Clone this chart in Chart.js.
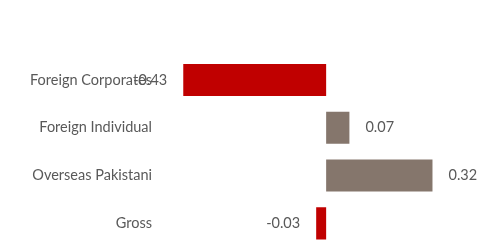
<!DOCTYPE html>
<html>
<head>
<meta charset="utf-8">
<script src="https://cdn.jsdelivr.net/npm/chart.js@4"></script>
<style>
    html, body { margin: 0; padding: 0; background: #ffffff; overflow: hidden; }
    #wrap { width: 479px; height: 264px; position: relative; }
</style>
</head>
<body>
<div id="wrap"><canvas id="flowChart"></canvas></div>
<script>
// --- Data ---
const categories = ['Foreign Corporates', 'Foreign Individual', 'Overseas Pakistani', 'Gross'];
const flowValues = [-0.43, 0.07, 0.32, -0.03];

const RED = '#C00000';
const TAUPE = '#85766C';
const TEXT_GREY = '#595959';
const FONT = 'Lato, "Open Sans", sans-serif';
const FONT_SIZE = 14.5;

// bars below zero are red, above are taupe
const barColors = flowValues.map(v => v < 0 ? RED : TAUPE);

// draws the value next to the end of every bar
const valueLabels = {
    id: 'valueLabels',
    afterDatasetsDraw(chart) {
        const ctx = chart.ctx;
        const meta = chart.getDatasetMeta(0);
        ctx.save();
        ctx.font = FONT_SIZE + 'px ' + FONT;
        ctx.fillStyle = TEXT_GREY;
        ctx.textBaseline = 'middle';
        meta.data.forEach((bar, i) => {
            const v = flowValues[i];
            if (v < 0) {
                ctx.textAlign = 'right';
                ctx.fillText(v.toFixed(2), bar.x - 16, bar.y);
            } else {
                ctx.textAlign = 'left';
                ctx.fillText(v.toFixed(2), bar.x + 16, bar.y);
            }
        });
        ctx.restore();
    }
};

function initChart() {
    const ctx = document.getElementById('flowChart').getContext('2d');
    new Chart(ctx, {
        type: 'bar',
        data: {
            labels: categories,
            datasets: [{
                data: flowValues,
                backgroundColor: barColors,
                borderWidth: 0,
                categoryPercentage: 1,
                barPercentage: 0.67
            }]
        },
        options: {
            indexAxis: 'y',
            responsive: true,
            maintainAspectRatio: false,
            animation: false,
            layout: { padding: { top: 56, bottom: 0, left: 0, right: 0 } },
            scales: {
                x: {
                    display: false,
                    min: -0.5,
                    max: 0.46
                },
                y: {
                    grid: { display: false, drawTicks: false },
                    border: { display: false },
                    ticks: {
                        color: TEXT_GREY,
                        font: { family: FONT, size: FONT_SIZE },
                        padding: 8
                    },
                    afterFit: (scale) => { scale.width = 160; }
                }
            },
            plugins: {
                legend: { display: false },
                tooltip: { enabled: false }
            }
        },
        plugins: [valueLabels]
    });
}

document.addEventListener('DOMContentLoaded', initChart);
</script>
</body>
</html>
